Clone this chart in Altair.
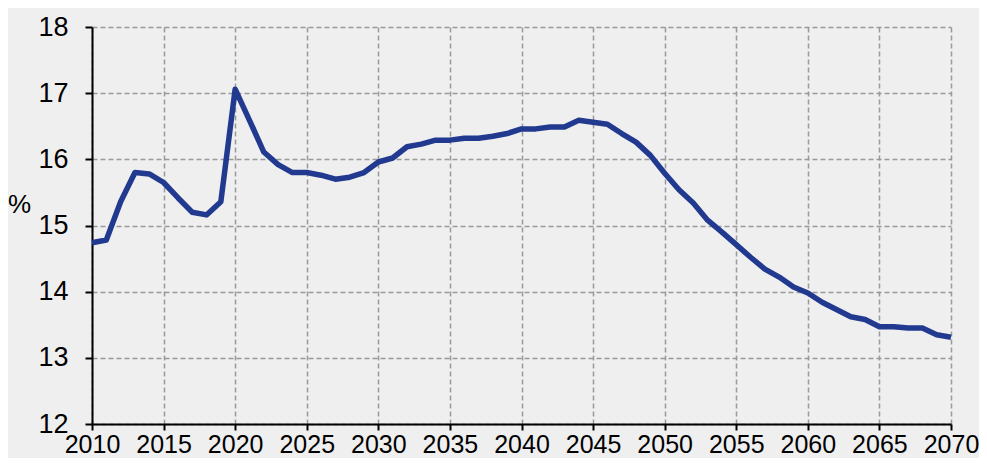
import altair as alt
import pandas as pd

years = list(range(2010, 2071))
values = [
    14.74, 14.78, 15.36, 15.80, 15.78, 15.65, 15.42, 15.20, 15.16, 15.36,
    17.06, 16.59, 16.11, 15.92, 15.80, 15.80, 15.76, 15.70, 15.73, 15.80,
    15.96, 16.02, 16.19, 16.23, 16.29, 16.29, 16.32, 16.32, 16.35, 16.39,
    16.46, 16.46, 16.49, 16.49, 16.59, 16.56, 16.53, 16.39, 16.26, 16.06,
    15.79, 15.54, 15.34, 15.08, 14.90, 14.71, 14.52, 14.34, 14.22, 14.07,
    13.98, 13.84, 13.73, 13.62, 13.58, 13.47, 13.47, 13.45, 13.45, 13.35,
    13.31,
]
x_ticks = list(range(2010, 2071, 5))
y_ticks = [12, 13, 14, 15, 16, 17, 18]

df = pd.DataFrame({"year": years, "value": values})

FONT = "Liberation Sans"

chart = alt.Chart(df).mark_line(color="#213a8f", strokeWidth=5.5, strokeJoin="round").encode(
    x=alt.X(
        "year:Q",
        scale=alt.Scale(domain=[2010, 2070], nice=False, zero=False),
        axis=alt.Axis(
            values=x_ticks, format="d", title=None,
            labelFontSize=25, labelFont=FONT, labelColor="#000000",
            labelPadding=2, tickSize=6, tickColor="#000000", tickWidth=2,
            domainColor="#000000", domainWidth=2,
            grid=True, gridColor="#999999", gridDash=[5, 3], gridWidth=1.5,
            labelFlush=False, labelOverlap=False,
        ),
    ),
    y=alt.Y(
        "value:Q",
        scale=alt.Scale(domain=[12, 18], nice=False, zero=False),
        axis=alt.Axis(
            values=y_ticks, title="%", titleAngle=0, titleX=-73, titleY=177,
            titleAlign="center", titleBaseline="middle",
            titleFontSize=26, titleFont=FONT, titleFontWeight="normal", titleColor="#000000",
            labelFontSize=27, labelFont=FONT, labelColor="#000000",
            labelPadding=17, tickSize=7, tickColor="#000000", tickWidth=2,
            domainColor="#000000", domainWidth=2,
            grid=True, gridColor="#999999", gridDash=[5, 3], gridWidth=1.5,
            labelFlush=False, labelOverlap=False,
        ),
    ),
).properties(
    width=859,
    height=397,
    autosize=alt.AutoSizeParams(type="none"),
    padding={"left": 84, "top": 19, "right": 28, "bottom": 34},
    background="#efefef",
).configure_view(
    stroke=None,
    fill="#efefef",
)

chart.save("out.html", embed_options={"renderer": "svg", "actions": False})
